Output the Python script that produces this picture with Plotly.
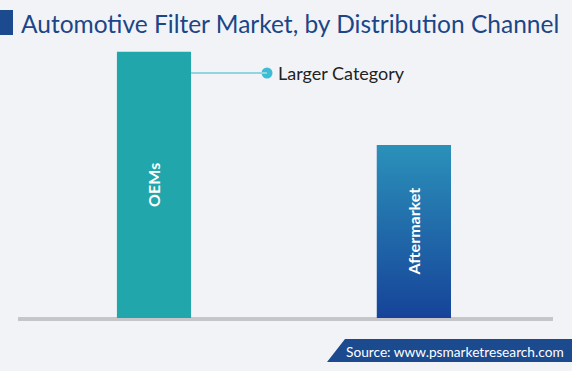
import plotly.graph_objects as go

# ---- data ----
categories = ["OEMs", "Aftermarket"]
shares = [60.6, 39.4]
bar_colors = ["#21a6ab", "#1c5ea6"]
title_text = "Automotive Filter Market, by Distribution Channel"
callout_text = "Larger Category"
source_text = "Source: www.psmarketresearch.com"

W, H = 572, 371
ML, MR, MT, MB = 18, 19, 40, 53
PW, PH = W - ML - MR, H - MT - MB


def px(x):
    return (x - ML) / PW


def py(y):
    return (H - MB - y) / PH


xpos = list(range(len(categories)))
bar_w = 0.285
xr = [-0.523, 1.535]
ymax = 63.3

fig = go.Figure()
fig.add_trace(go.Bar(
    x=xpos, y=shares, width=bar_w,
    marker=dict(color=bar_colors, line=dict(width=0)),
    hoverinfo="skip", showlegend=False,
))

# gradient overlay for the Aftermarket bar, built from its data value
i = 1
x0, x1 = xpos[i] - bar_w / 2, xpos[i] + bar_w / 2
fig.add_trace(go.Scatter(
    x=[x0, x1, x1, x0, x0], y=[0, 0, shares[i], shares[i], 0],
    fill="toself", mode="lines", line=dict(width=0),
    fillgradient=dict(type="vertical", start=0, stop=shares[i],
                      colorscale=[[0, "#164399"], [1, "#2b91ba"]]),
    hoverinfo="skip", showlegend=False,
))

# bar labels
for xi, cat, val in zip(xpos, categories, shares):
    fig.add_annotation(x=xi, y=val / 2, xref="x", yref="y", text=cat,
                       showarrow=False, textangle=-90,
                       font=dict(family="Lato", size=16, color="white", weight="bold"))

# callout
y_call = (H - MB - 73) / PH * ymax
dot_x = (267 - ML) / PW * (xr[1] - xr[0]) + xr[0]
fig.add_shape(type="line", xref="x", yref="y",
              x0=xpos[0] + bar_w / 2, x1=dot_x, y0=y_call, y1=y_call,
              line=dict(color="#8fd5e2", width=2))
fig.add_trace(go.Scatter(x=[dot_x], y=[y_call], mode="markers",
                         marker=dict(size=11, color="#3dbdd5"),
                         hoverinfo="skip", showlegend=False))
fig.add_annotation(x=dot_x, y=y_call, xref="x", yref="y", text=callout_text,
                   showarrow=False, xanchor="left", xshift=9,
                   font=dict(family="Lato", size=18, color="#222222"))

# baseline
fig.add_shape(type="line", xref="paper", yref="paper",
              x0=px(18), x1=px(553), y0=py(319), y1=py(319),
              line=dict(color="#c6c6ca", width=4), layer="below")

# title block
fig.add_shape(type="rect", xref="paper", yref="paper",
              x0=px(0), x1=px(13), y0=py(35), y1=py(10),
              fillcolor="#1b4a8f", line=dict(width=0))
fig.add_annotation(x=px(19), y=py(24), xref="paper", yref="paper",
                   text=title_text, showarrow=False, xanchor="left", yanchor="middle",
                   font=dict(family="Lato", size=24.5, color="#1b4687"))

# source banner
path = "M {} {} L {} {} L {} {} L {} {} Z".format(
    px(327), py(362), px(345), py(339), px(572), py(339), px(572), py(362))
fig.add_shape(type="path", xref="paper", yref="paper", path=path,
              fillcolor="#1b4a8f", line=dict(width=0))
fig.add_annotation(x=px(455), y=py(351), xref="paper", yref="paper",
                   text=source_text, showarrow=False, xanchor="center", yanchor="middle",
                   font=dict(family="Lato", size=13.7, color="white"))

fig.update_layout(
    width=W, height=H,
    margin=dict(l=ML, r=MR, t=MT, b=MB),
    paper_bgcolor="#f2f3f7", plot_bgcolor="#f2f3f7",
    xaxis=dict(range=xr, visible=False, fixedrange=True),
    yaxis=dict(range=[0, ymax], visible=False, fixedrange=True),
    barmode="overlay",
)

fig.write_html("out.html", config={"displayModeBar": False},
               post_script="document.body.style.margin='0';document.body.style.overflow='hidden';")
